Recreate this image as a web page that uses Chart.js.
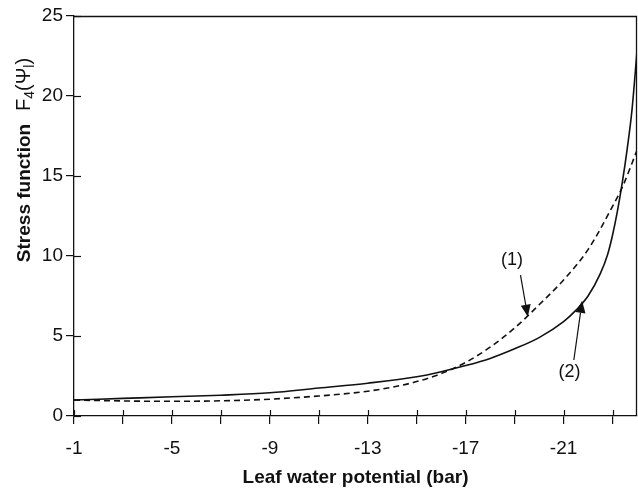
<!DOCTYPE html>
<html><head><meta charset="utf-8">
<script src="https://cdn.jsdelivr.net/npm/chart.js@4"></script>
<style>html,body{margin:0;padding:0;background:#fff}#wrap{width:638px;height:489px;position:relative}</style>
</head><body><div id="wrap"><canvas id="c"></canvas></div>
<script>
// Curve (1): dashed
const curve1X = [-1, -3, -5, -7, -9, -11, -12, -13, -14, -15, -16, -17, -18, -19, -20, -21, -22, -23, -23.4, -24];
const curve1Y = [1.0, 0.94, 0.92, 0.95, 1.05, 1.25, 1.38, 1.55, 1.8, 2.15, 2.65, 3.35, 4.3, 5.5, 6.95, 8.5, 10.4, 13.1, 14.3, 16.6];
// Curve (2): solid
const curve2X = [-1, -3, -5, -7, -9, -11, -13, -15, -16, -17, -18, -19, -20, -21, -21.5, -22, -22.5, -22.8, -23, -23.2, -23.4, -23.6, -23.8, -24];
const curve2Y = [1.0, 1.1, 1.2, 1.3, 1.45, 1.75, 2.05, 2.45, 2.77, 3.15, 3.6, 4.2, 4.9, 5.9, 6.6, 7.5, 8.9, 10.1, 11.3, 12.8, 14.6, 16.7, 19.2, 22.8];

const xTickValues = [-1, -3, -5, -7, -9, -11, -13, -15, -17, -19, -21, -23];
const xTickLabels = [-1, -5, -9, -13, -17, -21];
const yTickValues = [0, 5, 10, 15, 20, 25];

const xAxisTitle = 'Leaf water potential (bar)';
const yAxisTitle = 'Stress function';
const yAxisSymbol = {main: 'F', sub1: '4', open: '(', psi: 'Ψ', sub2: 'l', close: ')'};

const annotations = [
  {text: '(1)', labelX: -18.89, labelY: 9.75, tailX: -19.24, tailY: 8.8, tipX: -19.54, tipY: 6.2},
  {text: '(2)', labelX: -21.24, labelY: 2.72, tailX: -21.42, tailY: 3.5, tipX: -21.76, tipY: 7.2}
];

const FONT = '"Liberation Sans", Arial, sans-serif';
const INK = '#111';

const pts = (xs, ys) => xs.map((x, i) => ({x: x, y: ys[i]}));

const decor = {
  id: 'decor',
  afterDraw(chart) {
    const {ctx, chartArea: a, scales: {x, y}} = chart;
    ctx.save();
    ctx.strokeStyle = INK;
    ctx.fillStyle = INK;
    ctx.lineWidth = 1.3;
    // frame: top and right
    ctx.beginPath();
    ctx.moveTo(a.left, a.top + 0.5);
    ctx.lineTo(a.right - 0.5, a.top + 0.5);
    ctx.lineTo(a.right - 0.5, a.bottom);
    ctx.stroke();
    // inner parts of crossing ticks
    ctx.lineWidth = 1.2;
    xTickValues.forEach(v => {
      const px = Math.round(x.getPixelForValue(v)) + 0.5;
      ctx.beginPath(); ctx.moveTo(px, a.bottom); ctx.lineTo(px, a.bottom - 6); ctx.stroke();
    });
    yTickValues.forEach(v => {
      const py = Math.round(y.getPixelForValue(v)) + 0.5;
      ctx.beginPath(); ctx.moveTo(a.left, py); ctx.lineTo(a.left + 7, py); ctx.stroke();
    });
    // annotations
    ctx.font = '18px ' + FONT;
    ctx.textAlign = 'center';
    ctx.textBaseline = 'middle';
    annotations.forEach(an => {
      const lx = x.getPixelForValue(an.labelX), ly = y.getPixelForValue(an.labelY);
      ctx.fillText(an.text, lx, ly);
      const tx = x.getPixelForValue(an.tailX), ty = y.getPixelForValue(an.tailY);
      const hx = x.getPixelForValue(an.tipX), hy = y.getPixelForValue(an.tipY);
      const ang = Math.atan2(hy - ty, hx - tx);
      const L = 12, W = 5;
      const bx = hx - L * Math.cos(ang), by = hy - L * Math.sin(ang);
      ctx.lineWidth = 1.2;
      ctx.beginPath(); ctx.moveTo(tx, ty); ctx.lineTo(bx, by); ctx.stroke();
      ctx.beginPath();
      ctx.moveTo(hx, hy);
      ctx.lineTo(bx + W * Math.sin(ang), by - W * Math.cos(ang));
      ctx.lineTo(bx - W * Math.sin(ang), by + W * Math.cos(ang));
      ctx.closePath(); ctx.fill();
    });
    // y-axis title
    ctx.save();
    ctx.translate(30, 193);
    ctx.rotate(-Math.PI / 2);
    ctx.textAlign = 'center';
    ctx.textBaseline = 'alphabetic';
    ctx.font = 'bold 19px ' + FONT;
    ctx.fillText(yAxisTitle, 0, 0);
    ctx.restore();
    // symbol F4(Psi l)
    ctx.save();
    ctx.translate(30, 111);
    ctx.rotate(-Math.PI / 2);
    ctx.textAlign = 'left';
    ctx.textBaseline = 'alphabetic';
    let u = 0;
    const big = '20px ' + FONT, small = '14px ' + FONT;
    const put = (t, f, dy) => { ctx.font = f; ctx.fillText(t, u, dy); u += ctx.measureText(t).width; };
    put(yAxisSymbol.main, big, 0);
    put(yAxisSymbol.sub1, small, 4);
    put(yAxisSymbol.open, big, 0);
    put(yAxisSymbol.psi, big, 0);
    put(yAxisSymbol.sub2, small, 4);
    put(yAxisSymbol.close, big, 0);
    ctx.restore();
    ctx.restore();
  }
};

new Chart(document.getElementById('c'), {
  type: 'line',
  data: {
    datasets: [
      {label: '(1)', data: pts(curve1X, curve1Y), borderColor: INK, borderWidth: 1.6, borderDash: [6, 4], pointRadius: 0, fill: false, cubicInterpolationMode: 'monotone'},
      {label: '(2)', data: pts(curve2X, curve2Y), borderColor: INK, borderWidth: 1.6, pointRadius: 0, fill: false, cubicInterpolationMode: 'monotone'}
    ]
  },
  options: {
    responsive: true,
    maintainAspectRatio: false,
    animation: false,
    layout: {padding: {top: 16, right: 1, left: 0, bottom: 0}},
    plugins: {legend: {display: false}, tooltip: {enabled: false}},
    scales: {
      x: {
        type: 'linear', reverse: true, min: -24, max: -1,
        afterBuildTicks: s => { s.ticks = xTickValues.map(v => ({value: v})); },
        afterFit: s => { s.height = 73; },
        ticks: {autoSkip: false, maxRotation: 0, padding: 13, color: INK, font: {family: FONT, size: 19},
          callback: v => xTickLabels.includes(v) ? String(v) : ''},
        grid: {drawOnChartArea: false, tickLength: 8, color: INK, lineWidth: 1.2},
        border: {color: INK, width: 1.3},
        title: {display: true, text: xAxisTitle, color: INK, padding: 0, font: {family: FONT, size: 19, weight: 'bold'}}
      },
      y: {
        type: 'linear', min: 0, max: 25,
        afterBuildTicks: s => { s.ticks = yTickValues.map(v => ({value: v})); },
        afterFit: s => { s.width = 74; },
        ticks: {padding: 3, color: INK, font: {family: FONT, size: 19}},
        grid: {drawOnChartArea: false, tickLength: 8, color: INK, lineWidth: 1.2},
        border: {color: INK, width: 1.3}
      }
    }
  },
  plugins: [decor]
});
</script>
</body></html>
